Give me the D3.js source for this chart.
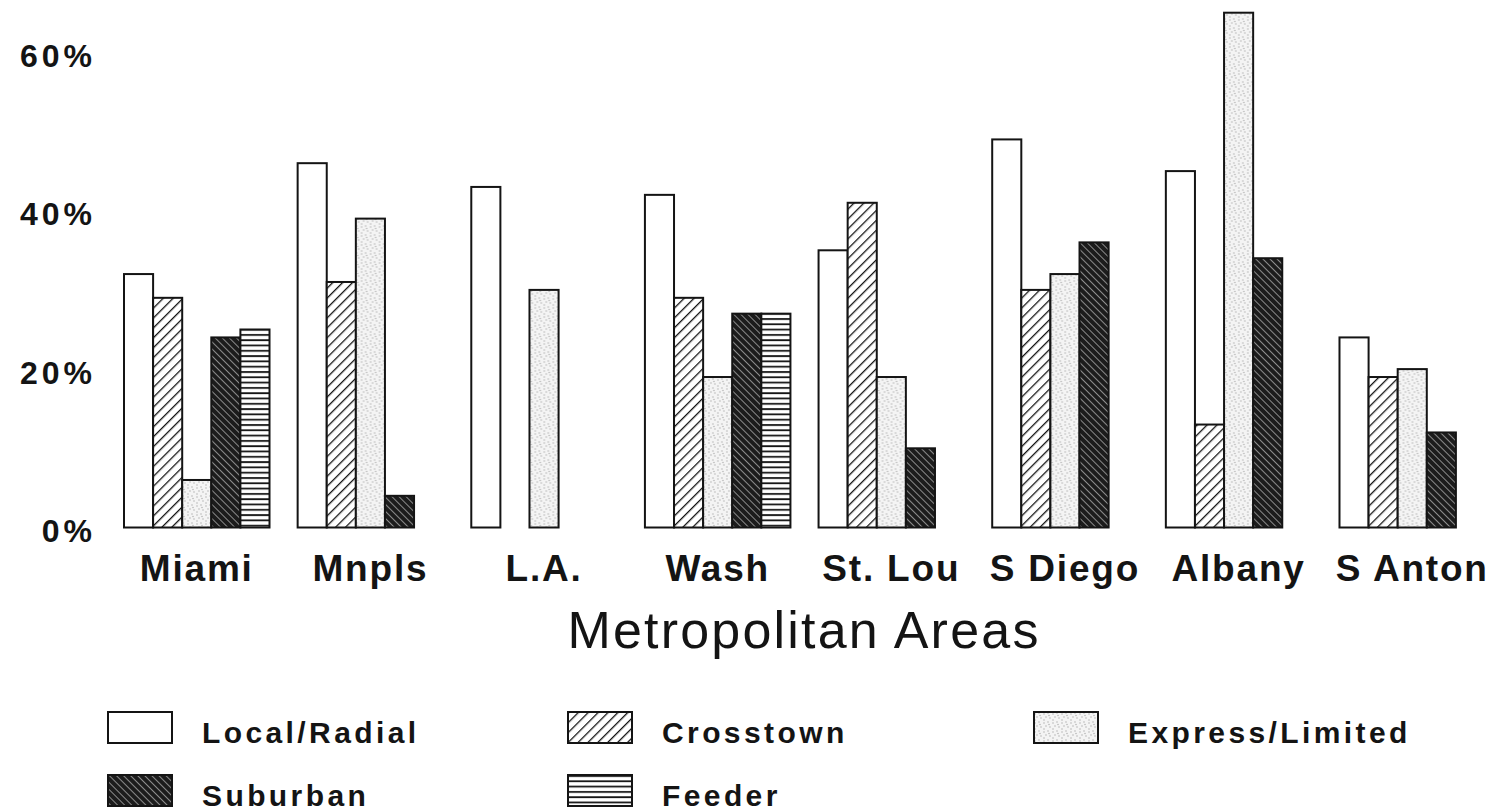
<!DOCTYPE html>
<html>
<head>
<meta charset="utf-8">
<script src="https://cdn.jsdelivr.net/npm/d3@7"></script>
<style>
  html, body { margin: 0; padding: 0; background: #fff; }
  svg { display: block; }
</style>
</head>
<body>
<svg id="chart" width="1497" height="811"></svg>
<script>
const categories = ["Miami", "Mnpls", "L.A.", "Wash", "St. Lou", "S Diego", "Albany", "S Anton"];
const seriesNames = ["Local/Radial", "Crosstown", "Express/Limited", "Suburban", "Feeder"];
const localRadial    = [32, 46, 43, 42, 35, 49, 45, 24];
const crosstown      = [29, 31, null, 29, 41, 30, 13, 19];
const expressLimited = [6, 39, 30, 19, 19, 32, 65, 20];
const suburban       = [24, 4, null, 27, 10, 36, 34, 12];
const feeder         = [25, null, null, 27, null, null, null, null];
const yTicks = [0, 20, 40, 60];
const xTitle = "Metropolitan Areas";

const seriesValues = [localRadial, crosstown, expressLimited, suburban, feeder];
const fills = ["url(#pLocal)", "url(#pCross)", "url(#pExpress)", "url(#pSub)", "url(#pFeeder)"];

const svg = d3.select("#chart");
const ink = "#141414";

// ---------- patterns ----------
const defs = svg.append("defs");
defs.append("pattern").attr("id", "pLocal").attr("patternUnits", "userSpaceOnUse")
  .attr("width", 4).attr("height", 4)
  .append("rect").attr("width", 4).attr("height", 4).attr("fill", "#fff");

const pc = defs.append("pattern").attr("id", "pCross").attr("patternUnits", "userSpaceOnUse")
  .attr("width", 7).attr("height", 7).attr("patternTransform", "rotate(45)");
pc.append("rect").attr("width", 7).attr("height", 7).attr("fill", "#fff");
pc.append("line").attr("x1", 0).attr("y1", 0).attr("x2", 0).attr("y2", 7)
  .attr("stroke", ink).attr("stroke-width", 2.6);

const ps = defs.append("pattern").attr("id", "pSub").attr("patternUnits", "userSpaceOnUse")
  .attr("width", 5).attr("height", 5).attr("patternTransform", "rotate(-45)");
ps.append("rect").attr("width", 5).attr("height", 5).attr("fill", "#1c1c1c");
ps.append("line").attr("x1", 0).attr("y1", 0).attr("x2", 0).attr("y2", 5)
  .attr("stroke", "#b0b0b0").attr("stroke-width", 1.5);

const pe = defs.append("pattern").attr("id", "pExpress").attr("patternUnits", "userSpaceOnUse")
  .attr("width", 9).attr("height", 9);
pe.append("rect").attr("width", 9).attr("height", 9).attr("fill", "#f4f4f4");
[[1,2],[5,1],[3,5],[7,6],[1,8],[6,3.5]].forEach(([cx, cy]) =>
  pe.append("circle").attr("cx", cx).attr("cy", cy).attr("r", 0.7).attr("fill", "#aaa"));

const pf = defs.append("pattern").attr("id", "pFeeder").attr("patternUnits", "userSpaceOnUse")
  .attr("width", 6).attr("height", 5.3);
pf.append("rect").attr("width", 6).attr("height", 5.3).attr("fill", "#fff");
pf.append("line").attr("x1", 0).attr("y1", 1).attr("x2", 6).attr("y2", 1)
  .attr("stroke", ink).attr("stroke-width", 1.8);

// ---------- scales ----------
const x0 = d3.scaleBand().domain(categories).range([124, 1485]).paddingInner(0.162).paddingOuter(0);
const x1 = d3.scaleBand().domain(d3.range(seriesNames.length)).range([0, x0.bandwidth()]).padding(0);
const y = d3.scaleLinear().domain([0, 60]).range([527.5, 52.3]);

// ---------- bars ----------
const groups = svg.append("g").selectAll("g").data(categories).join("g")
  .attr("transform", d => `translate(${x0(d)},0)`);

groups.selectAll("rect")
  .data((c, ci) => seriesValues.map((vals, si) => ({ si, v: vals[ci] })).filter(d => d.v != null))
  .join("rect")
  .attr("x", d => x1(d.si))
  .attr("width", x1.bandwidth())
  .attr("y", d => y(d.v))
  .attr("height", d => y(0) - y(d.v))
  .attr("fill", d => fills[d.si])
  .attr("stroke", ink)
  .attr("stroke-width", 2);

// ---------- y axis (labels only) ----------
const yAxis = d3.axisLeft(y).tickValues(yTicks).tickFormat(d => d + "%").tickSize(0).tickPadding(0);
const gy = svg.append("g").attr("transform", "translate(96,4)").call(yAxis);
gy.select(".domain").remove();
gy.selectAll("text")
  .attr("fill", ink)
  .style("font-family", "'Liberation Sans', Arial, sans-serif")
  .style("font-weight", "bold")
  .style("font-size", "32px")
  .style("letter-spacing", "4px");

// ---------- x axis (labels only) ----------
const xAxis = d3.axisBottom(x0).tickSize(0).tickPadding(0);
const gx = svg.append("g").attr("transform", "translate(0,555)").call(xAxis);
gx.select(".domain").remove();
gx.selectAll("text")
  .attr("fill", ink)
  .attr("dy", "0.71em")
  .style("font-family", "'Liberation Sans', Arial, sans-serif")
  .style("font-weight", "bold")
  .style("font-size", "37px")
  .style("letter-spacing", "1.8px");

svg.append("text")
  .attr("x", 804).attr("y", 648)
  .attr("text-anchor", "middle")
  .attr("fill", ink)
  .style("font-family", "'Liberation Sans', Arial, sans-serif")
  .style("font-size", "52px")
  .style("letter-spacing", "2.2px")
  .style("font-weight", "500")
  .text(xTitle);

// ---------- legend ----------
const legendPos = [
  { x: 108, y: 712 }, { x: 568, y: 712 }, { x: 1034, y: 712 },
  { x: 108, y: 775 }, { x: 568, y: 775 }
];
const lg = svg.append("g").selectAll("g").data(seriesNames).join("g")
  .attr("transform", (d, i) => `translate(${legendPos[i].x},${legendPos[i].y})`);
lg.append("rect")
  .attr("width", 64).attr("height", 31)
  .attr("fill", (d, i) => fills[i])
  .attr("stroke", ink).attr("stroke-width", 2);
lg.append("text")
  .attr("x", 94).attr("y", 31)
  .attr("fill", ink)
  .style("font-family", "'Liberation Sans', Arial, sans-serif")
  .style("font-weight", "bold")
  .style("font-size", "30px")
  .style("letter-spacing", "3.4px")
  .text(d => d);
</script>
</body>
</html>
